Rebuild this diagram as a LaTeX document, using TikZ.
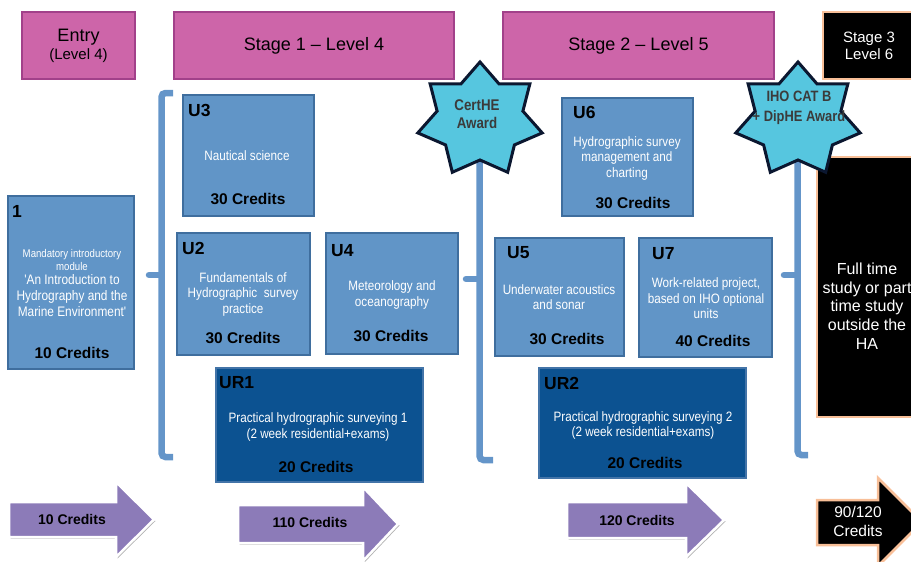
\documentclass[tikz,border=0pt]{standalone}
\usepackage{fontspec}
\setmainfont{Liberation Sans}
\newfontfamily\nar[FakeStretch=0.86]{Liberation Sans}
\usetikzlibrary{shadows}
\definecolor{pinkc}{HTML}{CD65A9}
\definecolor{pinkb}{HTML}{A2418A}
\definecolor{modc}{HTML}{6195C7}
\definecolor{modb}{HTML}{3F6E9E}
\definecolor{darkc}{HTML}{0C5291}
\definecolor{darkb}{HTML}{4374A8}
\definecolor{brc}{HTML}{6495C9}
\definecolor{starc}{HTML}{56C6DF}
\definecolor{starb}{HTML}{0B1730}
\definecolor{arrc}{HTML}{8C7BB8}
\definecolor{peach}{HTML}{F8BF98}
\definecolor{startxt}{HTML}{3B3B3B}
\begin{document}
\begin{tikzpicture}[x=1pt,y=-1pt,
  hdr/.style={fill=pinkc,draw=pinkb,line width=1.5pt,inner sep=0pt,align=center},
  blk/.style={fill=black,draw=peach,line width=2.5pt,inner sep=0pt},
  mod/.style={fill=modc,draw=modb,line width=1.5pt,inner sep=0pt},
  modd/.style={fill=darkc,draw=darkb,line width=1.5pt,inner sep=0pt},
  ttl/.style={font=\bfseries\fontsize{17.5}{17.5}\selectfont,anchor=west,inner sep=0pt},
  desc/.style={font=\nar\fontsize{13.6}{15.5}\selectfont,text=white,align=center,inner sep=0pt},
  cred/.style={font=\bfseries\fontsize{15.5}{15.5}\selectfont,inner sep=0pt},
  brk/.style={draw=brc,line width=6.5pt},
  starst/.style={fill=starc,draw=starb,line width=3pt,line join=miter},
  startext/.style={font=\nar\bfseries\fontsize{15.5}{18}\selectfont,text=startxt,align=center,inner sep=0pt},
  arr/.style={fill=arrc,draw=white,line width=2.5pt,line join=miter,
    drop shadow={shadow xshift=1.5pt,shadow yshift=-1.5pt,opacity=.3,fill=black}},
  arrblk/.style={fill=black,draw=peach,line width=2.5pt,line join=miter},
  arrtext/.style={font=\bfseries\fontsize{14}{14}\selectfont,inner sep=0pt},
  whitetext/.style={text=white,align=center,inner sep=0pt}
]
\useasboundingbox (0,0) rectangle (911,562);
\clip (0,0) rectangle (911,562);

% header boxes
\node[hdr,minimum width=113pt,minimum height=67pt,font=\fontsize{15}{18}\selectfont] (entry) at (78.5,45.5)
  {{\fontsize{18}{18}\selectfont Entry}\\(Level 4)};
\node[hdr,minimum width=280pt,minimum height=67pt,font=\fontsize{18}{20}\selectfont] (st1) at (314,45.5) {Stage 1 -- Level 4};
\node[hdr,minimum width=271pt,minimum height=67pt,font=\fontsize{18}{20}\selectfont] (st2) at (638.5,45.5) {Stage 2 -- Level 5};
\node[blk,minimum width=110pt,minimum height=67pt] (st3) at (878,45.5) {};
\node[whitetext,font=\fontsize{15}{17.5}\selectfont] (st3t) at (869,46) {Stage 3\\Level 6};

% brackets
\coordinate (b1top) at (173,93);
\coordinate (b1a) at (161.5,93);
\coordinate (b1b) at (161.5,457);
\coordinate (b1bot) at (173,457);
\coordinate (b1m) at (161.5,275);
\coordinate (b1mt) at (149,275);
\draw[brk,rounded corners=4pt] (b1top) -- (b1a) -- (b1b) -- (b1bot);
\draw[brk,line cap=round] (b1m) -- (b1mt);

\coordinate (b2top) at (479.5,160);
\coordinate (b2b) at (479.5,460);
\coordinate (b2bot) at (493,460);
\coordinate (b2m) at (479.5,279);
\coordinate (b2mt) at (466,279);
\draw[brk,rounded corners=4pt] (b2top) -- (b2b) -- (b2bot);
\draw[brk,line cap=round] (b2m) -- (b2mt);

\coordinate (b3top) at (797.5,160);
\coordinate (b3b) at (797.5,455);
\coordinate (b3bot) at (808,455);
\coordinate (b3m) at (797.5,275);
\coordinate (b3mt) at (784,275);
\draw[brk,rounded corners=4pt] (b3top) -- (b3b) -- (b3bot);
\draw[brk,line cap=round] (b3m) -- (b3mt);

% module boxes
\node[mod,minimum width=126pt,minimum height=173pt] (m1) at (71,282.5) {};
\node[ttl] (m1t) at (12,211) {1};
\node[whitetext,font=\nar\fontsize{11.2}{13}\selectfont] (m1s) at (72,259.5) {Mandatory introductory\\module};
\node[desc,font=\nar\fontsize{13.8}{16}\selectfont] (m1d) at (72,296) {'An Introduction to\\Hydrography and the\\Marine Environment'};
\node[cred] (m1c) at (72,353) {10 Credits};

\node[mod,minimum width=131pt,minimum height=121pt] (u3) at (248.5,155.5) {};
\node[ttl] (u3t) at (188,110) {U3};
\node[desc] (u3d) at (247,156) {Nautical science};
\node[cred] (u3c) at (248,199) {30 Credits};

\node[mod,minimum width=133pt,minimum height=122pt] (u2) at (243.5,294) {};
\node[ttl] (u2t) at (182,248) {U2};
\node[desc] (u2d) at (243,294) {Fundamentals of\\Hydrographic~ survey\\practice};
\node[cred] (u2c) at (243,338) {30 Credits};

\node[mod,minimum width=132pt,minimum height=121pt] (u4) at (392,293.5) {};
\node[ttl] (u4t) at (331,251) {U4};
\node[desc] (u4d) at (392,295) {Meteorology and\\oceanography};
\node[cred] (u4c) at (391,336) {30 Credits};

\node[modd,minimum width=207pt,minimum height=114pt] (ur1) at (319.5,425) {};
\node[ttl] (ur1t) at (219,383) {UR1};
\node[desc] (ur1d) at (318,427) {Practical hydrographic surveying 1\\(2 week residential+exams)};
\node[cred] (ur1c) at (316,467) {20 Credits};

\node[mod,minimum width=131pt,minimum height=118pt] (u6) at (627.5,157) {};
\node[ttl] (u6t) at (573,112) {U6};
\node[desc] (u6d) at (627,158) {Hydrographic survey\\management and\\charting};
\node[cred] (u6c) at (633,203) {30 Credits};

\node[mod,minimum width=129pt,minimum height=118pt] (u5) at (559.5,297) {};
\node[ttl] (u5t) at (507,253) {U5};
\node[desc] (u5d) at (559,297) {Underwater acoustics\\and sonar};
\node[cred] (u5c) at (567,339) {30 Credits};

\node[mod,minimum width=133pt,minimum height=119pt] (u7) at (705.5,297.5) {};
\node[ttl] (u7t) at (652,254) {U7};
\node[desc] (u7d) at (706,298.5) {Work-related project,\\based on IHO optional\\units};
\node[cred] (u7c) at (713,341) {40 Credits};

\node[modd,minimum width=207pt,minimum height=110pt] (ur2) at (642.5,423) {};
\node[ttl] (ur2t) at (544,383) {UR2};
\node[desc] (ur2d) at (643,425.5) {Practical hydrographic surveying 2\\(2 week residential+exams)};
\node[cred] (ur2c) at (645,463) {20 Credits};

% big black box
\node[blk,minimum width=118pt,minimum height=260pt] (ft) at (876,287) {};
\node[whitetext,font=\fontsize{16}{18.7}\selectfont] (ftt) at (867,306) {Full time\\study or part\\time study\\outside the\\HA};

% stars
\begin{scope}[shift={(480,120)},xscale=1.1]
\draw[starst] (270:58) \foreach \k in {1,...,6}{ -- ({270+\k*360/7-180/7}:40) -- ({270+\k*360/7}:58)} -- ({270-180/7}:40) -- cycle;
\end{scope}
\node[startext] (cert) at (477,114) {CertHE\\Award};

\begin{scope}[shift={(798,120)},xscale=1.1]
\draw[starst] (270:58) \foreach \k in {1,...,6}{ -- ({270+\k*360/7-180/7}:40) -- ({270+\k*360/7}:58)} -- ({270-180/7}:40) -- cycle;
\end{scope}
\node[startext,font=\nar\bfseries\fontsize{15}{20}\selectfont] (iho) at (799,108) {IHO CAT B\\+ DipHE Award};

% credit arrows
\path[arr] (9,502) -- (116,502) -- (116,482) -- (154,519.5) -- (116,557) -- (116,537) -- (9,537) -- cycle;
\node[arrtext] (a1) at (72,519.5) {10 Credits};
\path[arr] (238,505) -- (363,505) -- (363,487) -- (398,524) -- (363,561) -- (363,543) -- (238,543) -- cycle;
\node[arrtext] (a2) at (310,522) {110 Credits};
\path[arr] (567,502) -- (686,502) -- (686,483) -- (724,520) -- (686,557) -- (686,538) -- (567,538) -- cycle;
\node[arrtext] (a3) at (637,520) {120 Credits};
\path[arrblk] (817,500) -- (878,500) -- (878,478) -- (922,522) -- (878,566) -- (878,545) -- (817,545) -- cycle;
\node[whitetext,font=\fontsize{15.5}{19}\selectfont] (a4) at (858,521.5) {90/120\\Credits};
\end{tikzpicture}
\end{document}
